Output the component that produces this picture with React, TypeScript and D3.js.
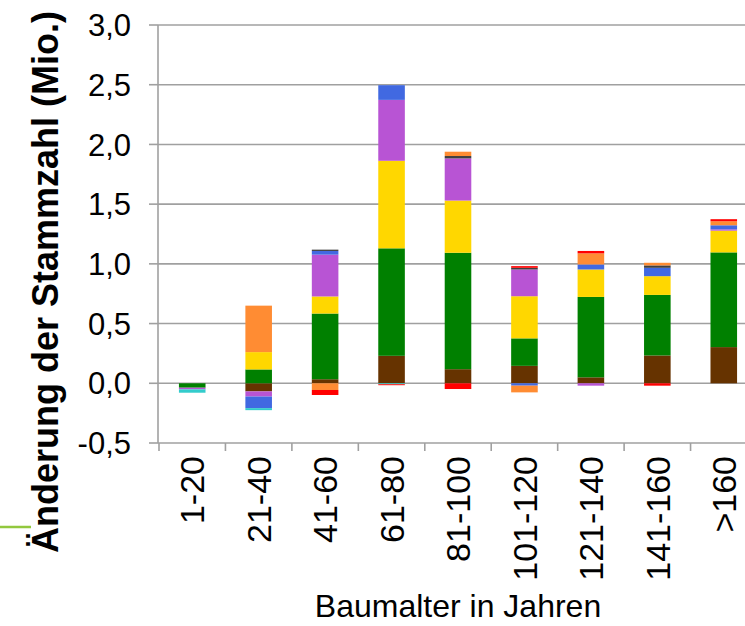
import React from 'react';
import * as d3 from 'd3';

const categories = ['1-20', '21-40', '41-60', '61-80', '81-100', '101-120', '121-140', '141-160', '>160'];

// Änderung der Stammzahl je Serie (Mio.)
const brown = [0, -0.068, 0.034, 0.23, 0.118, 0.146, 0.05, 0.233, 0.303];
const green = [-0.037, 0.116, 0.55, 0.9, 0.975, 0.23, 0.673, 0.507, 0.793];
const yellow = [0, 0.145, 0.143, 0.733, 0.437, 0.353, 0.23, 0.157, 0.182];
const purple = [-0.014, -0.043, 0.35, 0.51, 0.353, 0.224, -0.02, 0, 0.011];
const blue = [0, -0.097, 0.031, 0.123, 0, -0.02, 0.042, 0.07, 0.034];
const cyan = [-0.028, -0.017, 0, -0.008, 0, 0, 0, 0, 0];
const darkgray = [0, 0, 0.011, 0, 0.02, 0.014, 0, 0.02, 0];
const orange = [0, 0.389, -0.056, 0, 0.036, -0.056, 0.093, 0.022, 0.034];
const red = [0, 0, -0.042, -0.008, -0.048, 0.014, 0.02, -0.02, 0.017];

const yTicks = [-0.5, 0, 0.5, 1, 1.5, 2, 2.5, 3];

const series = [
  { key: 'brown', values: brown, color: '#663300' },
  { key: 'green', values: green, color: '#008000' },
  { key: 'yellow', values: yellow, color: '#FFD700' },
  { key: 'purple', values: purple, color: '#B854D4' },
  { key: 'blue', values: blue, color: '#4169E1' },
  { key: 'cyan', values: cyan, color: '#33CCCC' },
  { key: 'darkgray', values: darkgray, color: '#404040' },
  { key: 'orange', values: orange, color: '#FF8C33' },
  { key: 'red', values: red, color: '#FF0000' },
];

const W = 745;
const H = 626;
const left = 158;
const gridColor = '#A0A0A0';
const font = 'Arial, "Liberation Sans", sans-serif';

export default function App() {
  const rows = categories.map((c, i) => {
    const r: any = { cat: c };
    series.forEach(s => { r[s.key] = s.values[i]; });
    return r;
  });

  const stacked = d3.stack<any>()
    .keys(series.map(s => s.key))
    .offset(d3.stackOffsetDiverging)(rows);

  const x = d3.scaleBand().domain(categories).range([159, 757]);
  const y = d3.scaleLinear().domain([-0.5, 3]).range([443, 25]);
  const barW = x.bandwidth() * 0.4;
  const fmt = (v: number) => d3.format('.1f')(v).replace('.', ',').replace('−', '-');

  return (
    <svg width={W} height={H} style={{ position: 'absolute', left: 0, top: 0, background: '#fff' }}
      fontFamily={font}>
      {/* gridlines + y axis */}
      {yTicks.map(t => (
        <g key={t}>
          <line x1={left} x2={W} y1={y(t)} y2={y(t)} stroke={gridColor} strokeWidth={1.6} />
          <line x1={149} x2={left} y1={y(t)} y2={y(t)} stroke={gridColor} strokeWidth={1.6} />
          <text x={131} y={y(t)} dy="0.36em" textAnchor="end" fontSize={31} fill="#000">{fmt(t)}</text>
        </g>
      ))}
      <line x1={left} x2={left} y1={y(3)} y2={y(-0.5)} stroke={gridColor} strokeWidth={1.6} />

      {/* category ticks */}
      {categories.map(c => (
        <line key={c} x1={x(c)!} x2={x(c)!} y1={y(-0.5)} y2={y(-0.5) + 8} stroke={gridColor} strokeWidth={1.6} />
      ))}

      {/* bars */}
      {stacked.map((layer, si) => (
        <g key={layer.key} fill={series[si].color}>
          {layer.map((d, i) => {
            const h = Math.abs(y(d[0]) - y(d[1]));
            if (h === 0) return null;
            return (
              <rect key={i}
                x={x(categories[i])! + (x.bandwidth() - barW) / 2}
                y={Math.min(y(d[0]), y(d[1]))}
                width={barW}
                height={h} />
            );
          })}
        </g>
      ))}

      {/* x labels */}
      {categories.map(c => (
        <text key={c} transform={`translate(${x(c)! + x.bandwidth() / 2},456) rotate(-90)`}
          dy="0.36em" textAnchor="end" fontSize={34} fill="#000">{c}</text>
      ))}

      <text x={458} y={617} textAnchor="middle" fontSize={32} fill="#000">Baumalter in Jahren</text>
      <text transform="translate(45,282) rotate(-90)" dy="0.36em" textAnchor="middle"
        fontSize={36} fontWeight="bold" fill="#000">Änderung der Stammzahl (Mio.)</text>

      <line x1={0} x2={31} y1={527} y2={527} stroke="#92C83E" strokeWidth={2.5} />
    </svg>
  );
}
